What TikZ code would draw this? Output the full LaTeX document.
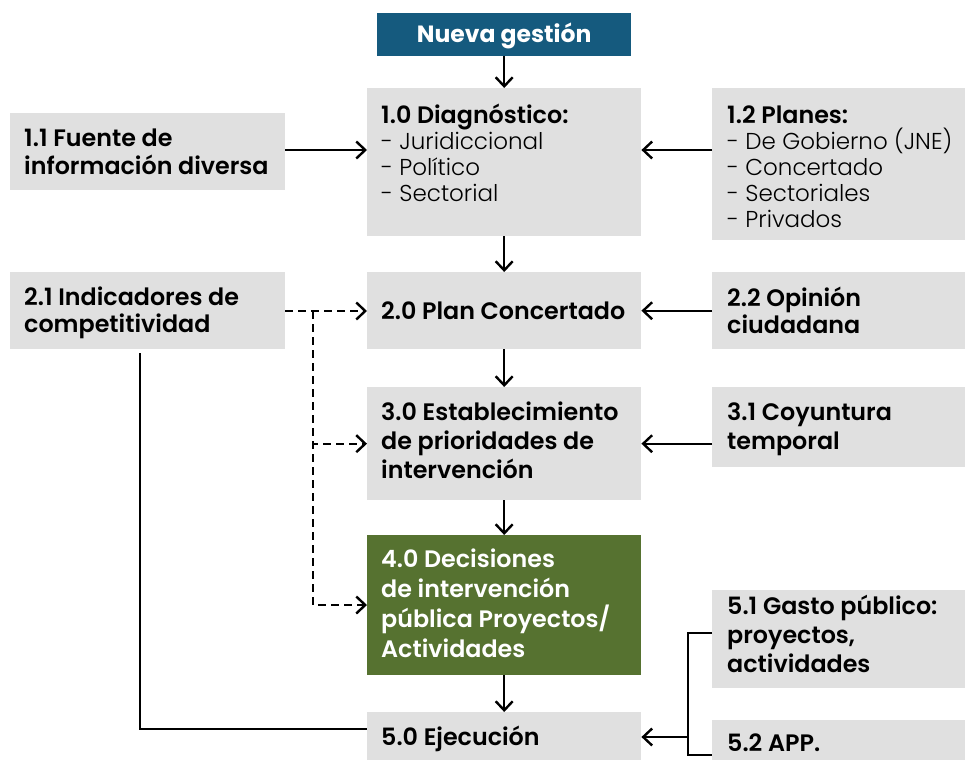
\documentclass[tikz,border=0pt]{standalone}
\usepackage{fontspec}
\setmainfont{Poppins Light}[BoldFont={Poppins SemiBold}]
\newfontfamily\titlefont{Poppins Bold}
\usetikzlibrary{arrows.meta}
\definecolor{boxgray}{HTML}{E0E0E0}
\definecolor{navy}{HTML}{155A7E}
\definecolor{olive}{HTML}{567230}
\newcommand\hd[1]{{\fontsize{23.8}{26}\selectfont\bfseries #1}}
\tikzset{
  box/.style={fill=boxgray, draw=none, anchor=north west, inner sep=0pt},
  txt/.style={anchor=base west, align=left, inner sep=0pt, font=\fontsize{23.8}{28}\selectfont\bfseries},
  ltxt/.style={anchor=base west, align=left, inner sep=0pt, font=\fontsize{23}{26}\selectfont},
  arr/.style={line width=2.4pt, -{Straight Barb[length=9pt,width=17pt]}},
  darr/.style={arr, dash pattern=on 8pt off 5pt},
  ln/.style={line width=2.4pt}
}
\begin{document}
\begin{tikzpicture}[x=1pt,y=-1pt]
\useasboundingbox (0,0) rectangle (965,760);
% boxes
\node[box, fill=navy, minimum width=254pt, minimum height=43pt] (n0) at (377,13) {};
\node[anchor=center, text=white, font=\fontsize{23.5}{27}\titlefont] (n0t) at ([yshift=-1.5pt]n0.center) {Nueva gestión};
\node[box, minimum width=274pt, minimum height=148pt] (b10) at (367,88) {};
\node[box, minimum width=275pt, minimum height=77pt] (b11) at (10,113) {};
\node[box, minimum width=253pt, minimum height=152pt] (b12) at (712,88) {};
\node[box, minimum width=274pt, minimum height=77pt] (b20) at (367,272) {};
\node[box, minimum width=275pt, minimum height=77pt] (b21) at (10,272) {};
\node[box, minimum width=253pt, minimum height=77pt] (b22) at (712,272) {};
\node[box, minimum width=274pt, minimum height=113pt] (b30) at (367,387) {};
\node[box, minimum width=253pt, minimum height=80pt] (b31) at (712,387) {};
\node[box, fill=olive, minimum width=274pt, minimum height=140pt] (b40) at (367,535) {};
\node[box, minimum width=274pt, minimum height=48pt] (b50) at (367,712) {};
\node[box, minimum width=253pt, minimum height=98pt] (b51) at (712,590) {};
\node[box, minimum width=253pt, minimum height=40pt] (b52) at (712,720) {};
% texts (anchor = baseline of last line)
\node[ltxt] (t10) at (381,201) {\hd{1.0 Diagnóstico:}\\- Juridiccional\\- Político\\- Sectorial};
\node[txt] (t11) at (24,174) {1.1 Fuente de\\información diversa};
\node[ltxt] (t12) at (727,227) {\hd{1.2 Planes:}\\- De Gobierno (JNE)\\- Concertado\\- Sectoriales\\- Privados};
\node[txt] (t20) at (381,319) {2.0 Plan Concertado};
\node[txt] (t21) at (24,332) {2.1 Indicadores de\\[-1pt]competitividad};
\node[txt] (t22) at (727,333) {2.2 Opinión\\[-1pt]ciudadana};
\node[txt] (t30) at (381,478) {3.0 Establecimiento\\[1pt]de prioridades de\\[1pt]intervención};
\node[txt] (t31) at (727,449) {3.1 Coyuntura\\[1pt]temporal};
\node[txt, text=white] (t40) at (381,657) {4.0 Decisiones\\[1.7pt]de intervención\\[1.7pt]pública Proyectos/\\[1.7pt]Actividades};
\node[txt] (t50) at (381,745) {5.0 Ejecución};
\node[txt] (t51) at (727,672) {5.1 Gasto público:\\[1pt]proyectos,\\[1pt]actividades};
\node[txt] (t52) at (727,751) {5.2 APP.};
% vertical flow
\draw[arr] (n0) -- (b10);
\draw[arr] (b10) -- (b20);
\draw[arr] (b20) -- (b30);
\draw[arr] (b30) -- (b40);
\draw[arr] (b40) -- (b50);
% side inputs
\coordinate (y1) at (0,150);
\draw[arr] (b11.east |- y1) -- (b10.west |- y1);
\draw[arr] (b12.west |- y1) -- (b10.east |- y1);
\draw[arr] (b22.west |- b20.east) -- (b20.east);
\draw[arr] (b31.west |- b30.east) -- (b30.east);
% dashed
\coordinate (j) at (313,311);
\coordinate (y40) at (0,605);
\draw[darr] (b21.east |- j) -- (b20.west |- j);
\draw[darr] (j) |- (b30.west);
\draw[darr] (j) |- (b40.west |- y40);
% solid feedback
\coordinate (c1) at (140,353);
\coordinate (c2) at (140,729);
\draw[ln] (c1) -- (c2) -- (b50.west |- c2);
% bracket
\coordinate (k1) at (688,633);
\coordinate (k2) at (688,755);
\coordinate (k3) at (688,737);
\draw[ln] (b51.west |- k1) -- (k1) -- (k2) -- (b52.west |- k2);
\draw[arr] (k3) -- (b50.east |- k3);
\end{tikzpicture}
\end{document}
